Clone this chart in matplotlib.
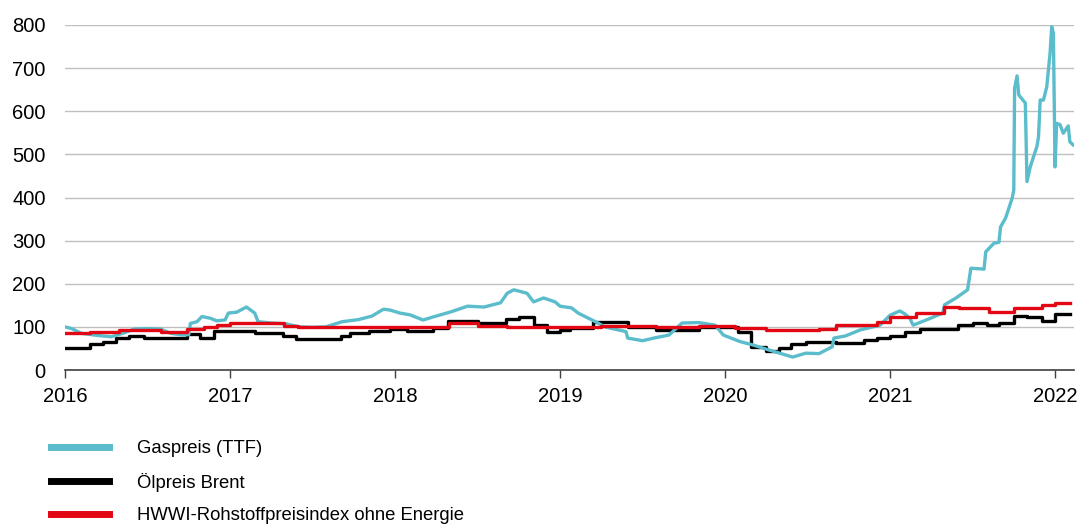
import numpy as np
import matplotlib
matplotlib.use("Agg")
import matplotlib.pyplot as plt

plt.rcParams['font.family'] = ['Liberation Sans', 'DejaVu Sans']

# Gaspreis (TTF), index, time in decimal years
gas_t = [2016.00, 2016.04, 2016.10, 2016.20, 2016.28, 2016.35, 2016.42, 2016.50, 2016.58,
         2016.64, 2016.72, 2016.75, 2016.76, 2016.80, 2016.83, 2016.88, 2016.92, 2016.97,
         2016.99, 2017.04, 2017.10, 2017.15, 2017.17, 2017.25, 2017.34, 2017.42, 2017.50,
         2017.58, 2017.68, 2017.78, 2017.86, 2017.93, 2017.97, 2018.03, 2018.09, 2018.17,
         2018.24, 2018.34, 2018.44, 2018.54, 2018.64, 2018.68, 2018.72, 2018.80, 2018.84,
         2018.90, 2018.97, 2019.00, 2019.07, 2019.11, 2019.23, 2019.27, 2019.40, 2019.41,
         2019.50, 2019.58, 2019.66, 2019.74, 2019.84, 2019.94, 2019.99, 2020.09, 2020.17,
         2020.27, 2020.41, 2020.49, 2020.57, 2020.65, 2020.66, 2020.73, 2020.82, 2020.94,
         2021.00, 2021.06, 2021.09, 2021.12, 2021.14, 2021.22, 2021.32, 2021.33, 2021.40,
         2021.47, 2021.49, 2021.57, 2021.58, 2021.63, 2021.66, 2021.67, 2021.70, 2021.74,
         2021.75, 2021.755, 2021.77, 2021.78, 2021.82, 2021.83, 2021.85, 2021.86, 2021.89,
         2021.90, 2021.91, 2021.93, 2021.95, 2021.97, 2021.98, 2021.99, 2022.00, 2022.01,
         2022.03, 2022.05, 2022.08, 2022.09, 2022.11]
gas_v = [100, 96, 85, 80, 77, 85, 95, 96, 95,
         85, 81, 82, 108, 112, 124, 120, 114, 116,
         132, 134, 146, 132, 112, 109, 107, 100, 99,
         100, 112, 117, 125, 141, 139, 132, 128, 116,
         124, 135, 148, 146, 156, 178, 186, 178, 158,
         167, 158, 148, 144, 132, 109, 100, 89, 74,
         68, 75, 81, 109, 110, 104, 81, 66, 58,
         46, 30, 39, 38, 54, 74, 79, 93, 104,
         127, 137, 130, 120, 104, 116, 132, 151, 167,
         186, 236, 234, 274, 294, 296, 332, 352, 398,
         417, 654, 682, 638, 619, 437, 471, 483, 518,
         541, 626, 626, 657, 735, 796, 781, 471, 572,
         569, 549, 566, 529, 522]

# Ölpreis Brent (monthly steps)
brent_t = [2016.00, 2016.15, 2016.23, 2016.31, 2016.39, 2016.48, 2016.74, 2016.82, 2016.90,
           2017.15, 2017.32, 2017.40, 2017.67, 2017.73, 2017.84, 2017.97, 2018.07, 2018.23,
           2018.32, 2018.50, 2018.67, 2018.75, 2018.84, 2018.92, 2019.00, 2019.06, 2019.20,
           2019.41, 2019.58, 2019.84, 2020.08, 2020.16, 2020.25, 2020.33, 2020.40, 2020.49,
           2020.67, 2020.84, 2020.92, 2021.00, 2021.09, 2021.18, 2021.41, 2021.50, 2021.59,
           2021.66, 2021.75, 2021.83, 2021.92, 2022.00, 2022.09]
brent_v = [50, 60, 66, 74, 79, 74, 83, 74, 91,
           85, 79, 73, 79, 85, 91, 96, 90, 97,
           114, 110, 118, 124, 104, 89, 93, 97, 111,
           100, 93, 100, 89, 53, 45, 50, 60, 66,
           62, 70, 74, 79, 89, 94, 104, 110, 104,
           110, 125, 122, 114, 131, 131]

# HWWI-Rohstoffpreisindex ohne Energie (monthly steps)
hwwi_t = [2016.00, 2016.15, 2016.33, 2016.58, 2016.74, 2016.84, 2016.92, 2017.00, 2017.33,
          2017.41, 2018.23, 2018.33, 2018.50, 2018.68, 2019.00, 2019.25, 2019.58, 2019.84,
          2020.06, 2020.25, 2020.57, 2020.67, 2020.92, 2021.00, 2021.16, 2021.33, 2021.42,
          2021.60, 2021.75, 2021.92, 2022.00, 2022.09]
hwwi_v = [85, 89, 93, 89, 94, 100, 104, 108, 103,
          99, 100, 108, 102, 99, 100, 102, 99, 102,
          98, 92, 94, 104, 112, 124, 133, 147, 143,
          135, 143, 151, 156, 156]

years = [2016, 2017, 2018, 2019, 2020, 2021, 2022]
yticks = [0, 100, 200, 300, 400, 500, 600, 700, 800]

fig = plt.figure(figsize=(10.82, 5.27), dpi=100)
ax = fig.add_axes([65 / 1082, 1 - 370 / 527, (1074 - 65) / 1082, 345 / 527])

l_gas, = ax.plot(gas_t, gas_v, color='#5bbccb', lw=2.4, label='Gaspreis (TTF)', zorder=3)
l_brent, = ax.plot(brent_t, brent_v, color='black', lw=2.4, drawstyle='steps-post',
                   label='Ölpreis Brent', zorder=2)
l_hwwi, = ax.plot(hwwi_t, hwwi_v, color='#e30613', lw=2.4, drawstyle='steps-post',
                  label='HWWI-Rohstoffpreisindex ohne Energie', zorder=4)

ax.set_xlim(2016, 2022.115)
ax.set_ylim(0, 800)
ax.set_xticks(years)
ax.set_xticklabels([str(y) for y in years])
ax.set_yticks(yticks)
ax.yaxis.grid(True, color='#bfbfbf', lw=1)
ax.set_axisbelow(True)
for s in ['top', 'right', 'left']:
    ax.spines[s].set_visible(False)
ax.spines['bottom'].set_color('#404040')
ax.spines['bottom'].set_linewidth(1.2)
ax.tick_params(axis='y', length=0, pad=14, labelsize=14.5)
ax.tick_params(axis='x', length=6, width=1, color='#404040', pad=6, labelsize=14.5)

leg = fig.legend(handles=[l_gas, l_brent, l_hwwi], loc='upper left',
                 bbox_to_anchor=(51 / 1082, 1 - 440 / 527), frameon=False,
                 fontsize=13.3, handlelength=3.15, handletextpad=1.52,
                 labelspacing=0.85, borderpad=0, borderaxespad=0)
for h in leg.get_lines():
    h.set_linewidth(5)

fig.savefig('out.png', dpi=100)
